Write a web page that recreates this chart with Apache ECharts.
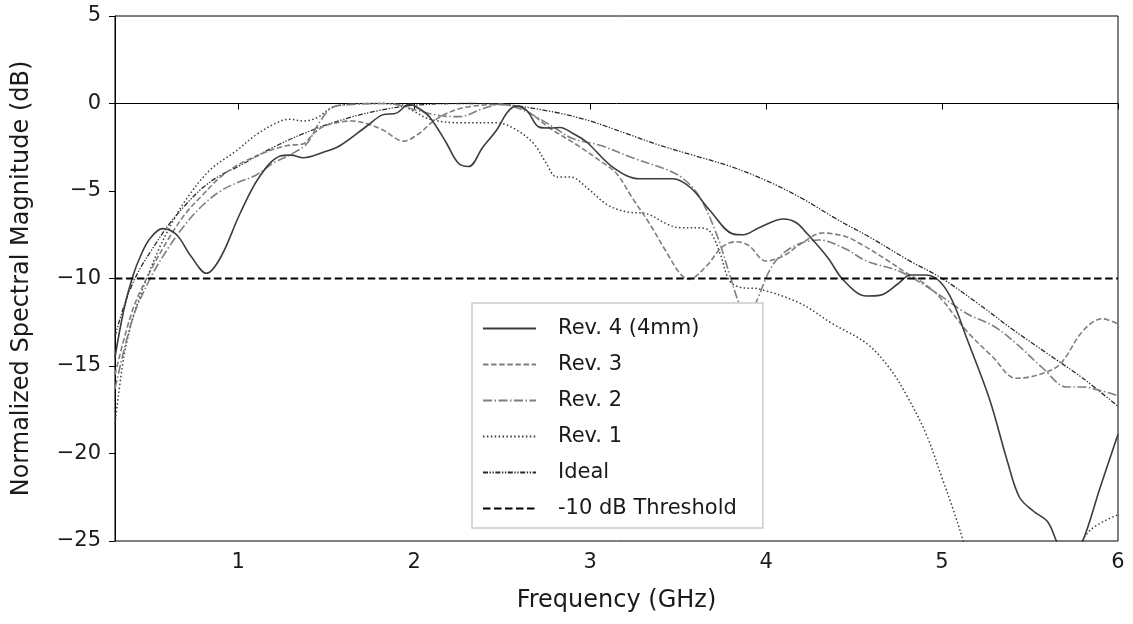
<!DOCTYPE html>
<html>
<head>
<meta charset="utf-8">
<script src="https://cdn.jsdelivr.net/npm/echarts@6/dist/echarts.min.js"></script>
<style>
html,body{margin:0;padding:0;background:#fff;}
#chart{width:1133px;height:624px;}
</style>
</head>
<body>
<div id="chart"></div>
<script>
// ---- data ----
var xTicks = [1, 2, 3, 4, 5, 6];
var yTicks = [-25, -20, -15, -10, -5, 0, 5];

var rev4F  = [0.3,0.35,0.4,0.45,0.5,0.57,0.65,0.73,0.82,0.9,1.01,1.12,1.24,1.3,1.37,1.48,1.58,1.73,1.82,1.9,1.97,2.03,2.09,2.18,2.25,2.31,2.39,2.47,2.53,2.58,2.64,2.71,2.77,2.83,2.9,2.98,3.13,3.28,3.47,3.57,3.68,3.81,3.87,3.96,4.1,4.17,4.23,4.35,4.44,4.57,4.65,4.75,4.82,4.91,4.99,5.06,5.14,5.27,5.37,5.44,5.52,5.6,5.65,5.72,5.8,5.9,6.0];
var rev4Db = [-14.5,-11.8,-9.9,-8.6,-7.7,-7.15,-7.5,-8.7,-9.7,-8.8,-6.3,-4.2,-3.0,-2.95,-3.1,-2.8,-2.4,-1.3,-0.65,-0.55,-0.05,-0.3,-0.8,-2.2,-3.4,-3.6,-2.5,-1.5,-0.5,-0.15,-0.4,-1.35,-1.4,-1.37,-1.7,-2.2,-3.65,-4.3,-4.3,-4.8,-6.1,-7.45,-7.5,-7.1,-6.6,-6.8,-7.4,-8.8,-10.1,-11.0,-10.95,-10.3,-9.8,-9.8,-10.2,-11.3,-13.4,-16.9,-20.4,-22.5,-23.3,-23.9,-25.0,-26.5,-25.0,-21.9,-18.9];

var rev3F  = [0.3,0.4,0.5,0.6,0.7,0.8,0.9,1.0,1.15,1.28,1.37,1.43,1.5,1.65,1.73,1.82,1.94,2.03,2.11,2.2,2.3,2.49,2.6,2.68,2.77,2.93,3.06,3.15,3.24,3.34,3.44,3.51,3.56,3.66,3.75,3.83,3.9,4.0,4.1,4.2,4.32,4.45,4.55,4.68,4.8,4.9,4.99,5.14,5.29,5.42,5.55,5.67,5.8,5.91,6.0];
var rev3Db = [-15.5,-11.8,-9.6,-7.8,-6.3,-5.2,-4.2,-3.5,-2.8,-2.4,-2.3,-1.7,-1.25,-1.0,-1.15,-1.5,-2.15,-1.7,-1.0,-0.5,-0.2,-0.05,-0.2,-0.7,-1.4,-2.4,-3.3,-4.0,-5.4,-6.9,-8.6,-9.7,-10.05,-9.3,-8.2,-7.9,-8.1,-9.0,-8.7,-8.0,-7.4,-7.6,-8.1,-8.9,-9.7,-10.3,-11.1,-13.0,-14.5,-15.7,-15.5,-14.9,-13.0,-12.3,-12.6];

var rev2F  = [0.3,0.4,0.5,0.6,0.7,0.8,0.9,1.0,1.1,1.2,1.3,1.39,1.46,1.54,1.65,1.85,2.02,2.15,2.26,2.39,2.49,2.6,2.7,2.8,2.9,3.06,3.24,3.44,3.53,3.62,3.72,3.8,3.85,3.9,3.95,4.04,4.15,4.3,4.45,4.57,4.76,4.95,5.14,5.29,5.42,5.57,5.71,5.8,5.9,6.0];
var rev2Db = [-16.3,-12.3,-10.0,-8.3,-6.9,-5.8,-5.0,-4.5,-4.1,-3.4,-2.9,-2.3,-1.1,-0.2,-0.05,0,-0.4,-0.7,-0.75,-0.3,-0.05,-0.3,-0.8,-1.4,-2.0,-2.4,-3.1,-3.8,-4.3,-5.3,-7.5,-10.0,-11.5,-12.3,-11.2,-9.2,-8.2,-7.8,-8.3,-9.0,-9.6,-10.7,-12.0,-12.7,-13.7,-15.1,-16.2,-16.2,-16.4,-16.7];

var rev1F  = [0.3,0.35,0.4,0.45,0.48,0.55,0.62,0.71,0.84,0.99,1.1,1.22,1.29,1.37,1.45,1.52,1.58,1.75,1.92,1.99,2.09,2.26,2.47,2.58,2.68,2.75,2.81,2.89,2.98,3.1,3.21,3.32,3.44,3.51,3.62,3.68,3.74,3.79,3.85,3.96,4.19,4.38,4.57,4.7,4.8,4.91,5.0,5.06,5.12,5.2,5.4,5.6,5.75,5.84,6.0];
var rev1Db = [-18.3,-14.5,-12.3,-10.8,-10.0,-8.3,-6.9,-5.4,-3.8,-2.7,-1.8,-1.1,-0.9,-1.0,-0.8,-0.3,-0.1,0,-0.05,-0.4,-0.9,-1.1,-1.1,-1.5,-2.3,-3.4,-4.2,-4.2,-4.8,-5.8,-6.2,-6.3,-6.9,-7.1,-7.1,-7.3,-8.6,-10.1,-10.5,-10.6,-11.4,-12.6,-13.7,-15.1,-16.7,-18.9,-21.4,-23.1,-25.0,-28.0,-32.0,-30.0,-26.0,-24.4,-23.5];

var idealF  = [0.3,0.35,0.4,0.45,0.5,0.6,0.7,0.8,0.9,1.0,1.2,1.4,1.6,1.8,2.0,2.3,2.5,2.8,3.0,3.2,3.4,3.6,3.8,4.0,4.2,4.4,4.6,4.8,5.0,5.2,5.4,5.6,5.8,6.0];
var idealDb = [-13.3,-11.6,-10.3,-9.3,-8.5,-7.0,-5.8,-4.8,-4.1,-3.6,-2.5,-1.6,-0.9,-0.4,-0.1,0,-0.05,-0.5,-1.0,-1.7,-2.4,-3.0,-3.6,-4.4,-5.4,-6.6,-7.7,-8.9,-10.0,-11.4,-12.9,-14.3,-15.7,-17.3];

var thresholdDb = -10;
var xMin = 0.3, xMax = 6, yMin = -25, yMax = 5;

var names = ['Rev. 4 (4mm)', 'Rev. 3', 'Rev. 2', 'Rev. 1', 'Ideal', '-10 dB Threshold'];

function zip(a, b) { return a.map(function (v, i) { return [v, b[i]]; }); }

var FONT = 'DejaVu Sans';

function lineSeries(name, data, color, width, dash, z) {
  return {
    name: name, type: 'line', data: data, smooth: 0.35,
    showSymbol: false, symbol: 'none', clip: true, z: z,
    lineStyle: { color: color, width: width, type: dash },
    itemStyle: { color: color },
    emphasis: { disabled: true }, animation: false
  };
}

var chart = echarts.init(document.getElementById('chart'), null, { renderer: 'canvas' });
chart.setOption({
  backgroundColor: '#fff',
  animation: false,
  textStyle: { fontFamily: FONT },
  grid: { left: 115, right: 15, top: 16, bottom: 83, show: true, borderColor: '#000', borderWidth: 1, backgroundColor: 'transparent' },
  xAxis: {
    type: 'value', min: xMin, max: xMax,
    name: 'Frequency (GHz)', nameLocation: 'middle', nameGap: 48,
    nameTextStyle: { fontSize: 24, color: '#1a1a1a', fontFamily: FONT },
    axisLine: { show: true, lineStyle: { color: '#000', width: 1 } },
    axisTick: { show: true, inside: false, length: 6, customValues: xTicks, lineStyle: { color: '#000', width: 1 } },
    axisLabel: { show: true, customValues: xTicks, fontSize: 21, color: '#1a1a1a', margin: 11, fontFamily: FONT },
    splitLine: { show: false }
  },
  yAxis: {
    type: 'value', min: yMin, max: yMax, interval: 5,
    name: 'Normalized Spectral Magnitude (dB)', nameLocation: 'middle', nameGap: 81,
    nameTextStyle: { fontSize: 24, color: '#1a1a1a', fontFamily: FONT },
    axisLine: { show: true, lineStyle: { color: '#000', width: 1 } },
    axisTick: { show: true, inside: false, length: 6, lineStyle: { color: '#000', width: 1 } },
    axisLabel: { fontSize: 21, color: '#1a1a1a', margin: 14, fontFamily: FONT,
      formatter: function (v) { return String(v).replace('-', '\u2212'); } },
    splitLine: { show: false }
  },
  legend: {
    data: names, orient: 'vertical', left: 472, top: 303, z: 30,
    itemWidth: 53, itemHeight: 14, itemGap: 15,
    padding: [15, 26, 9, 10],
    backgroundColor: '#fff', borderColor: '#cccccc', borderWidth: 1.5, borderRadius: 0,
    selectedMode: false,
    itemStyle: { opacity: 0 },
    textStyle: { fontSize: 21, color: '#1a1a1a', fontFamily: FONT, padding: [0, 0, 0, 17] }
  },
  series: [
    lineSeries(names[0], zip(rev4F, rev4Db), '#3c3c3c', 1.6, 'solid', 10),
    lineSeries(names[1], zip(rev3F, rev3Db), '#7f7f7f', 1.6, [5.5, 2.6], 9),
    lineSeries(names[2], zip(rev2F, rev2Db), '#7f7f7f', 1.6, [9, 2.5, 1.5, 2.5], 8),
    lineSeries(names[3], zip(rev1F, rev1Db), '#3c3c3c', 1.5, [1.5, 2.4], 7),
    lineSeries(names[4], zip(idealF, idealDb), '#2a2a2a', 1.3, [5, 1.6, 1.3, 1.6, 1.3, 1.6], 6),
    lineSeries(names[5], [[xMin, thresholdDb], [xMax, thresholdDb]], '#000000', 2.2, [7.5, 3.5], 11)
  ]
});
</script>
</body>
</html>
